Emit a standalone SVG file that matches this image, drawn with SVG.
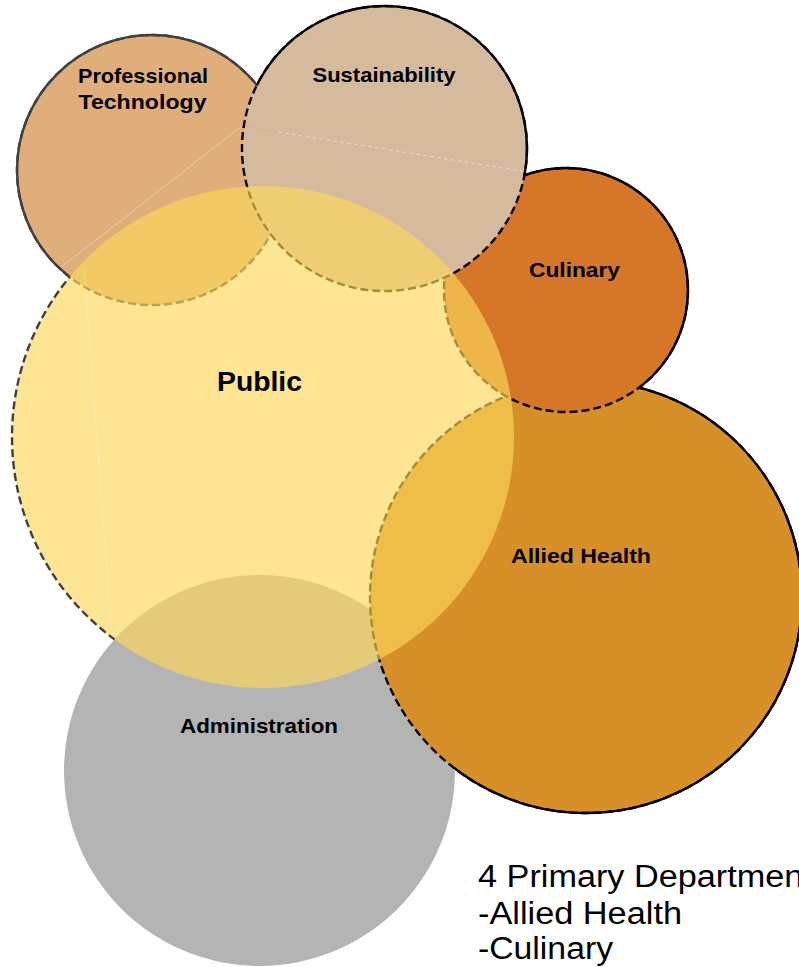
<svg xmlns="http://www.w3.org/2000/svg" width="799" height="967" viewBox="0 0 799 967">
<style>
  .lbl { font-family: "Liberation Sans", Arial, sans-serif; font-weight: bold; fill: #000; text-anchor: middle; font-size: 21px; }
  .big { font-size: 27px; }
  .note { font-family: "Liberation Sans", Arial, sans-serif; font-size: 31px; fill: #000; }
  .dash { fill: none; stroke-dasharray: 8 4; }
  .solid { fill: none; }
  .k { stroke: #000; stroke-width: 2.4; }
  .g { stroke: #404040; stroke-width: 2.4; }
  .seam { fill: none; stroke: #fff; stroke-width: 1; }
</style>
<defs>
  <circle id="cPT" cx="152" cy="170" r="135"/>
  <circle id="cSU" cx="384.5" cy="148.5" r="142.5"/>
  <circle id="cCU" cx="566" cy="290" r="122"/>
  <circle id="cPU" cx="263" cy="437" r="251"/>
  <circle id="cAH" cx="586" cy="597" r="216"/>
  <circle id="cAD" cx="259.5" cy="770.5" r="195.5"/>
  <mask id="mPT" maskUnits="userSpaceOnUse" x="0" y="0" width="799" height="967">
    <rect width="799" height="967" fill="#fff"/>
    <use href="#cSU" fill="#000"/><use href="#cPU" fill="#000"/>
  </mask>
  <mask id="mSU" maskUnits="userSpaceOnUse" x="0" y="0" width="799" height="967">
    <rect width="799" height="967" fill="#fff"/>
    <use href="#cPT" fill="#000"/><use href="#cCU" fill="#000"/><use href="#cPU" fill="#000"/>
  </mask>
  <mask id="mCU" maskUnits="userSpaceOnUse" x="0" y="0" width="799" height="967">
    <rect width="799" height="967" fill="#fff"/>
    <use href="#cSU" fill="#000"/><use href="#cAH" fill="#000"/><use href="#cPU" fill="#000"/>
  </mask>
  <mask id="mAH" maskUnits="userSpaceOnUse" x="0" y="0" width="799" height="967">
    <rect width="799" height="967" fill="#fff"/>
    <use href="#cCU" fill="#000"/><use href="#cPU" fill="#000"/><use href="#cAD" fill="#000"/>
  </mask>
  <mask id="mPU" maskUnits="userSpaceOnUse" x="0" y="0" width="799" height="967">
    <rect width="799" height="967" fill="#fff"/>
    <use href="#cPT" fill="#000"/><use href="#cSU" fill="#000"/><use href="#cCU" fill="#000"/><use href="#cAH" fill="#000"/><use href="#cAD" fill="#000"/>
  </mask>
</defs>

<g id="administration">
  <use href="#cAD" fill="#B4B4B4"/>
  <text class="lbl" x="259" y="733" textLength="158" lengthAdjust="spacingAndGlyphs">Administration</text>
</g>

<g id="allied-health">
  <use href="#cAH" fill="#D79029"/>
  <use href="#cAH" class="dash k"/>
  <use href="#cAH" class="solid k" mask="url(#mAH)"/>
  <text class="lbl" x="581" y="563" textLength="140" lengthAdjust="spacingAndGlyphs">Allied Health</text>
</g>

<g id="culinary">
  <use href="#cCU" fill="#D57628"/>
  <use href="#cCU" class="dash k"/>
  <use href="#cCU" class="solid k" mask="url(#mCU)"/>
  <text class="lbl" x="574.5" y="277" textLength="91" lengthAdjust="spacingAndGlyphs">Culinary</text>
</g>

<g id="professional-technology">
  <use href="#cPT" fill="#E0AE7A"/>
  <line class="seam" x1="60" y1="268" x2="243" y2="125" stroke-opacity="0.35"/>
  <use href="#cPT" class="dash g"/>
  <use href="#cPT" class="solid g" mask="url(#mPT)"/>
  <text class="lbl" x="143" y="83" textLength="130" lengthAdjust="spacingAndGlyphs">Professional</text>
  <text class="lbl" x="142.5" y="109" textLength="128" lengthAdjust="spacingAndGlyphs">Technology</text>
</g>

<g id="sustainability">
  <use href="#cSU" fill="#D6BA9E"/>
  <line x1="243" y1="126" x2="278" y2="132" stroke="#E2A882" stroke-width="1" stroke-opacity="0.6"/>
  <line class="seam" x1="278" y1="132" x2="522" y2="171" stroke-opacity="0.45" stroke-dasharray="4 3"/>
  <use href="#cSU" class="dash k"/>
  <use href="#cSU" class="solid k" mask="url(#mSU)"/>
  <text class="lbl" x="384" y="82" textLength="143" lengthAdjust="spacingAndGlyphs">Sustainability</text>
</g>

<g id="public">
  <use href="#cPU" fill="#FCD75A" fill-opacity="0.65"/>
  <line class="seam" x1="84" y1="268" x2="112" y2="637" stroke-opacity="0.25"/>
  <use href="#cPU" class="dash g" mask="url(#mPU)"/>
  <text class="lbl big" x="259.5" y="391" textLength="85" lengthAdjust="spacingAndGlyphs">Public</text>
</g>

<g id="note">
  <text class="note" x="478" y="887" textLength="352" lengthAdjust="spacingAndGlyphs">4 Primary Departments</text>
  <text class="note" x="478" y="924" textLength="204" lengthAdjust="spacingAndGlyphs">-Allied Health</text>
  <text class="note" x="478" y="959" textLength="135" lengthAdjust="spacingAndGlyphs">-Culinary</text>
</g>
</svg>
